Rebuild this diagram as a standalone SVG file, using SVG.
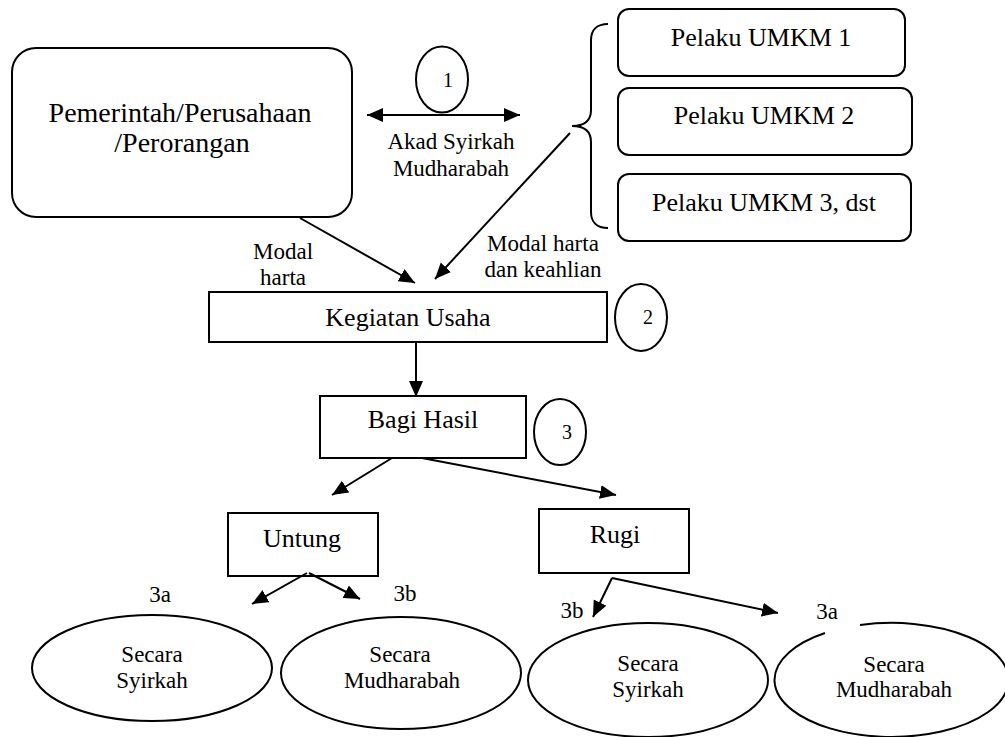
<svg xmlns="http://www.w3.org/2000/svg" width="1005" height="737" viewBox="0 0 1005 737">
<style>
.s{fill:none;stroke:#000;stroke-width:2}
.w{fill:#fff;stroke:#000;stroke-width:2}
text{font-family:"Liberation Serif","Times New Roman",serif;fill:#000;text-anchor:middle}
.t{font-size:28px}
.b{font-size:26px}
.m{font-size:23px}
.n{font-size:20px}
.c line{stroke:#000;stroke-width:2;marker-end:url(#ah)}
</style>
<defs>
<marker id="ah" markerUnits="userSpaceOnUse" markerWidth="17" markerHeight="15" refX="16" refY="7" orient="auto-start-reverse"><path d="M0,0 L16,7 L0,14 z" fill="#000"/></marker>
</defs>
<rect width="1005" height="737" fill="#fff"/>
<g id="pemerintah"><rect class="w" x="12" y="48" width="340" height="169" rx="24"/><text class="t" x="180" y="122">Pemerintah/Perusahaan</text><text class="t" x="182" y="152">/Perorangan</text></g>
<g id="step1"><ellipse class="s" cx="442" cy="79.5" rx="26" ry="33"/><text class="n" x="448" y="87">1</text></g>
<g id="akad-label"><text class="m" x="451" y="149">Akad Syirkah</text><text class="m" x="451" y="176">Mudharabah</text></g>
<g id="umkm1"><rect class="w" x="618" y="9" width="287" height="67" rx="11"/><text class="b" x="761" y="46">Pelaku UMKM 1</text></g>
<g id="umkm2"><rect class="w" x="618" y="88" width="294" height="67" rx="11"/><text class="b" x="764" y="124">Pelaku UMKM 2</text></g>
<g id="umkm3"><rect class="w" x="618" y="174" width="293" height="67" rx="11"/><text class="b" x="764" y="211">Pelaku UMKM 3, dst</text></g>
<g id="brace"><path class="s" d="M608,24 C597,24 591,30 591,40 L591,110 C591,120 585,126 572,126 C585,126 591,132 591,142 L591,212 C591,222 597,228 608,228"/></g>
<g id="kegiatan"><rect class="w" x="209" y="292" width="398" height="50"/><text class="b" x="408" y="326">Kegiatan Usaha</text></g>
<g id="step2"><ellipse class="s" cx="641" cy="317.5" rx="26" ry="33.5"/><text class="n" x="648" y="324">2</text></g>
<g id="bagi"><rect class="w" x="320" y="396" width="206" height="62"/><text class="b" x="423" y="428">Bagi Hasil</text></g>
<g id="step3"><ellipse class="s" cx="560" cy="432" rx="26" ry="33"/><text class="n" x="567" y="439">3</text></g>
<g id="untung"><rect class="w" x="228" y="513" width="150" height="63"/><text class="b" x="302" y="547">Untung</text></g>
<g id="rugi"><rect class="w" x="539" y="509" width="150" height="64"/><text class="b" x="615" y="543">Rugi</text></g>
<g id="e1"><ellipse class="s" cx="152" cy="668" rx="120" ry="53"/><text class="m" x="152" y="662">Secara</text><text class="m" x="152" y="688">Syirkah</text></g>
<g id="e2"><ellipse class="s" cx="401" cy="673" rx="120" ry="56"/><text class="m" x="400" y="662">Secara</text><text class="m" x="402" y="688">Mudharabah</text></g>
<g id="e3"><ellipse class="s" cx="648" cy="680" rx="120" ry="57"/><text class="m" x="648" y="671">Secara</text><text class="m" x="648" y="697">Syirkah</text></g>
<g id="e4"><path class="s" d="M860,625 A117,57 0 1 1 825,633"/><text class="m" x="894" y="672">Secara</text><text class="m" x="894" y="697">Mudharabah</text></g>
<g id="labels">
<text class="m" x="283" y="259">Modal</text><text class="m" x="283" y="285">harta</text>
<text class="m" x="543" y="251">Modal harta</text><text class="m" x="543" y="277">dan keahlian</text>
<text class="m" x="160" y="602">3a</text><text class="m" x="405" y="601">3b</text>
<text class="m" x="572" y="618">3b</text><text class="m" x="827" y="619">3a</text>
</g>
<g id="connectors" class="c">
<line x1="367" y1="115" x2="520" y2="115" style="marker-start:url(#ah)"/>
<line x1="300" y1="218" x2="415" y2="283"/>
<line x1="570" y1="133" x2="435" y2="279"/>
<line x1="416" y1="343" x2="416" y2="397"/>
<line x1="392" y1="458" x2="332" y2="495"/>
<line x1="422" y1="458" x2="616" y2="495"/>
<line x1="307" y1="573" x2="252" y2="604"/>
<line x1="309" y1="573" x2="360" y2="599"/>
<line x1="612" y1="578" x2="593" y2="617"/>
<line x1="612" y1="578" x2="778" y2="613"/>
</g>
</svg>
